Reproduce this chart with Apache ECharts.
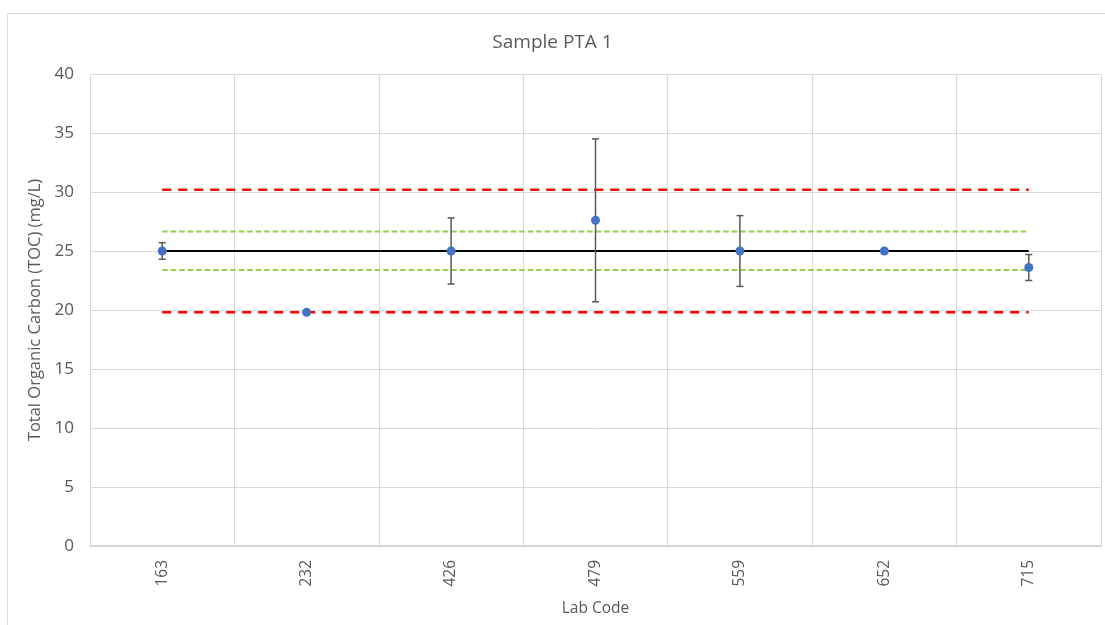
<!DOCTYPE html>
<html>
<head>
<meta charset="utf-8">
<script src="https://cdn.jsdelivr.net/npm/echarts@6/dist/echarts.min.js"></script>
<style>
html,body{margin:0;padding:0;background:#fff;}
#chart{width:1105px;height:625px;}
</style>
</head>
<body>
<div id="chart"></div>
<script>
const labCodes = ['163','232','426','479','559','652','715'];
const results = [25.0, 19.8, 25.0, 27.6, 25.0, 25.0, 23.6];
const errLow = [24.3, null, 22.2, 20.7, 22.0, null, 22.5];
const errHigh = [25.7, null, 27.8, 34.5, 28.0, null, 24.7];
const assignedValue = [25, 25, 25, 25, 25, 25, 25];
const upperWarning = [26.65, 26.65, 26.65, 26.65, 26.65, 26.65, 26.65];
const lowerWarning = [23.4, 23.4, 23.4, 23.4, 23.4, 23.4, 23.4];
const upperAction = [30.2, 30.2, 30.2, 30.2, 30.2, 30.2, 30.2];
const lowerAction = [19.8, 19.8, 19.8, 19.8, 19.8, 19.8, 19.8];
const yTicks = { min: 0, max: 40, interval: 5 };

const FONT = 'Open Sans';
const TXT = '#595959';

const chart = echarts.init(document.getElementById('chart'));

function refLine(data, color, width, dash) {
  return {
    type: 'line', data: data, symbol: 'none', silent: true, z: 2,
    lineStyle: { color: color, width: width, type: dash }
  };
}

const errData = labCodes.map((c, i) => [i, errLow[i], errHigh[i]]).filter(d => d[1] != null);

chart.setOption({
  animation: false,
  graphic: [{
    type: 'rect', z: -10, silent: true,
    shape: { x: 7.5, y: 13.5, width: 1110, height: 620 },
    style: { fill: 'none', stroke: '#d9d9d9', lineWidth: 1 }
  }],
  title: {
    text: 'Sample PTA 1', left: 'center', top: 28,
    textStyle: { fontFamily: FONT, fontSize: 19, fontWeight: 'normal', color: TXT }
  },
  grid: { left: 90, right: 4, top: 74, bottom: 79 },
  xAxis: {
    type: 'category', data: labCodes, boundaryGap: true,
    name: 'Lab Code', nameLocation: 'middle', nameGap: 55,
    nameTextStyle: { fontFamily: FONT, fontSize: 15.5, color: TXT },
    axisLine: { lineStyle: { color: '#d0d0d0', width: 1.5 } },
    axisTick: { show: false },
    axisLabel: { rotate: 90, margin: 14, fontFamily: FONT, fontSize: 15.5, color: TXT },
    splitLine: { show: true, lineStyle: { color: '#d9d9d9', width: 1 } }
  },
  yAxis: {
    type: 'value', min: yTicks.min, max: yTicks.max, interval: yTicks.interval,
    name: 'Total Organic Carbon (TOC) (mg/L)', nameLocation: 'middle', nameGap: 39,
    nameTextStyle: { fontFamily: FONT, fontSize: 16.5, color: TXT },
    axisLine: { show: false }, axisTick: { show: false },
    axisLabel: { margin: 16, fontFamily: FONT, fontSize: 17, color: TXT },
    splitLine: { lineStyle: { color: '#d9d9d9', width: 1 } }
  },
  series: [
    refLine(upperAction, '#ff0000', 2.5, [9, 7]),
    refLine(lowerAction, '#ff0000', 2.5, [9, 7]),
    refLine(upperWarning, '#92d050', 2, [5.5, 3]),
    refLine(lowerWarning, '#92d050', 2, [5.5, 3]),
    refLine(assignedValue, '#000000', 2, 'solid'),
    {
      type: 'custom', z: 3, silent: true, data: errData,
      renderItem: function (params, api) {
        const x = api.value(0);
        const lo = api.coord([x, api.value(1)]);
        const hi = api.coord([x, api.value(2)]);
        const hw = 3.5;
        const st = { stroke: '#595959', lineWidth: 1.5 };
        return {
          type: 'group',
          children: [
            { type: 'line', shape: { x1: lo[0], y1: lo[1], x2: hi[0], y2: hi[1] }, style: st },
            { type: 'line', shape: { x1: lo[0] - hw, y1: lo[1], x2: lo[0] + hw, y2: lo[1] }, style: st },
            { type: 'line', shape: { x1: hi[0] - hw, y1: hi[1], x2: hi[0] + hw, y2: hi[1] }, style: st }
          ]
        };
      }
    },
    {
      type: 'scatter', data: results, z: 5, symbol: 'circle', symbolSize: 9,
      itemStyle: { color: '#4472c4', opacity: 1 }
    }
  ]
});
</script>
</body>
</html>
